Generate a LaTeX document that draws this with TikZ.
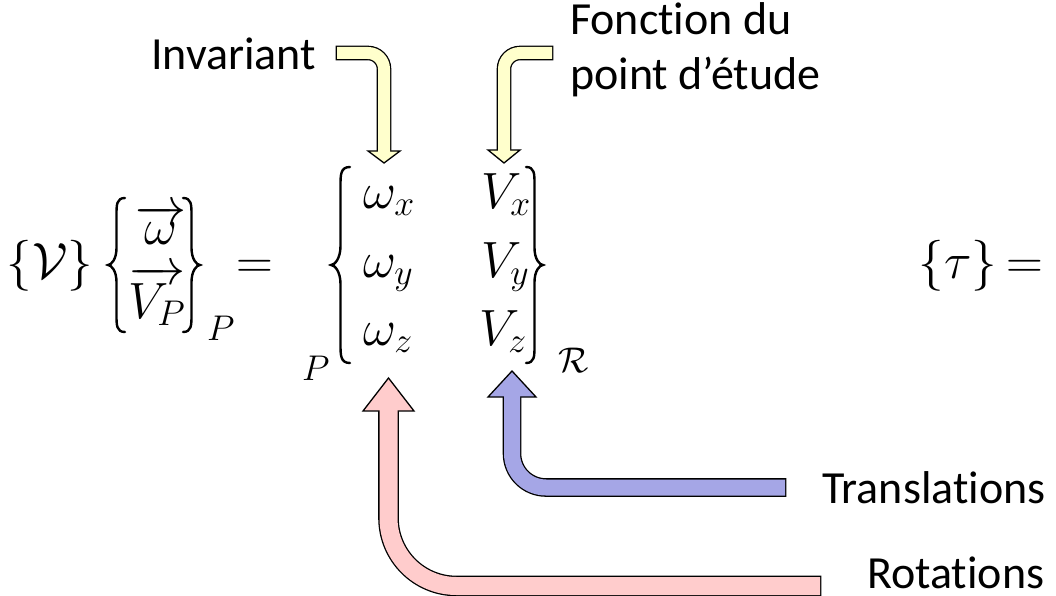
\RequirePackage{fix-cm}
\documentclass[tikz,border=0pt]{standalone}
\usepackage[no-math]{fontspec}
\setmainfont{Carlito}[Ligatures=NoCommon]
\usetikzlibrary{calc}
\definecolor{yel}{RGB}{255,255,204}
\definecolor{blu}{RGB}{165,166,230}
\definecolor{pnk}{RGB}{255,204,204}
\tikzset{
  lbl/.style={inner sep=0pt, anchor=base west, font=\fontsize{46}{55}\selectfont},
  mth/.style={inner sep=0pt, font=\fontsize{51}{61}\selectfont},
  mthw/.style={mth, anchor=base west},
  outl/.style={draw=black},
  headst/.style={draw=black, line width=1.3pt, line join=miter},
  bracest/.style={draw=black, line width=2.4pt, line cap=round},
}
% #1 tip coordinate name, #2 half height, #3 amplitude, #4 xscale (1 = left brace, -1 = right brace)
\newcommand\myBrace[4]{%
  \begin{scope}[shift={(#1)}, xscale=#4]
    \draw[bracest] (#3,-#2) .. controls (#3/2,-#2) and (#3/2,-#2+0.4*#3) .. (#3/2,-#2+#3)
      -- (#3/2,-#3) .. controls (#3/2,-0.35*#3) and (0.2*#3,0) .. (0,0)
      .. controls (0.2*#3,0) and (#3/2,0.35*#3) .. (#3/2,#3)
      -- (#3/2,#2-#3) .. controls (#3/2,#2-0.4*#3) and (#3/2,#2) .. (#3,#2);
  \end{scope}}
\begin{document}
\begin{tikzpicture}[x=1pt,y=-1pt]
\useasboundingbox (0,0) rectangle (1056,596);

% text labels
\node[lbl] (inv) at (151,70) {Invariant};
\node[lbl] (fon1) at (570,35) {Fonction du};
\node[lbl] (fon2) at (570,90) {point d’étude};
\node[lbl] (tra) at (822,503) {Translations};
\node[lbl] (rot) at (867,588) {Rotations};

% left formula
\node[mth, anchor=base] (cv) at (50,278) {$\{\mathcal{V}\}$};
\node[mthw] (om) at (135,244) {$\overrightarrow{\omega}$};
\node[mthw] (vp) at (128,318) {$\overrightarrow{V_P}$};
\node[mthw] (p1) at (207,340) {$\scriptstyle P$};
\node[mth, anchor=base] (eq1) at (255,278) {$=$};
\coordinate (lb1) at (108,265);
\coordinate (rb1) at (200,265);
\myBrace{lb1}{67}{17}{1}
\myBrace{rb1}{67}{17}{-1}

% matrix
\node[mthw] (ox) at (363,208) {$\omega_x$};
\node[mthw] (oy) at (363,277) {$\omega_y$};
\node[mthw] (oz) at (363,345) {$\omega_z$};
\node[mthw] (vx) at (481,208) {$V_x$};
\node[mthw] (vy) at (481,277) {$V_y$};
\node[mthw] (vz) at (479,345) {$V_z$};
\node[mthw] (pr) at (558,372) {$\scriptstyle\mathcal{R}$};
\node[mthw] (p2) at (302,380) {$\scriptstyle P$};
\coordinate (lb2) at (331,265);
\coordinate (rb2) at (543,265);
\myBrace{lb2}{98}{19}{1}
\myBrace{rb2}{98}{17}{-1}

% right formula
\node[mth, anchor=base] (tau) at (958,278) {$\{\tau\}$};
\node[mth, anchor=base] (eq2) at (1025,278) {$=$};

% yellow arrow 1 (Invariant)
\coordinate (y1tail) at (337,53);
\coordinate (y1knee) at (384,53);
\coordinate (y1base) at (384,151);
\coordinate (y1tip) at (384,163);
\draw[outl, line width=14.6pt, rounded corners=16pt] ($(y1tail)+(-1.3,0)$) -- (y1knee) -- (y1base);
\filldraw[headst, fill=yel] ($(y1base)+(-16,0)$) -- ($(y1base)+(16,0)$) -- (y1tip) -- cycle;
\draw[yel, line width=12pt, rounded corners=16pt] (y1tail) -- (y1knee) -- ($(y1base)+(0,1.5)$);

% yellow arrow 2 (Fonction du point d'etude)
\coordinate (y2tail) at (552,53);
\coordinate (y2knee) at (504,53);
\coordinate (y2base) at (504,150);
\coordinate (y2tip) at (504,163);
\draw[outl, line width=14.6pt, rounded corners=16pt] ($(y2tail)+(1.3,0)$) -- (y2knee) -- (y2base);
\filldraw[headst, fill=yel] ($(y2base)+(-16,0)$) -- ($(y2base)+(16,0)$) -- (y2tip) -- cycle;
\draw[yel, line width=12pt, rounded corners=16pt] (y2tail) -- (y2knee) -- ($(y2base)+(0,1.5)$);

% blue arrow (Translations)
\coordinate (btail) at (785,487.5);
\coordinate (bknee) at (512,487.5);
\coordinate (bbase) at (512,397);
\coordinate (btip) at (512,371);
\draw[outl, line width=18.6pt, rounded corners=34pt] ($(btail)+(1.3,0)$) -- (bknee) -- (bbase);
\filldraw[headst, fill=blu] ($(bbase)+(-24,0)$) -- ($(bbase)+(24,0)$) -- (btip) -- cycle;
\draw[blu, line width=16pt, rounded corners=34pt] (btail) -- (bknee) -- ($(bbase)+(0,-1.5)$);

% pink arrow (Rotations)
\coordinate (ptail) at (820,586);
\coordinate (pknee) at (388.5,586);
\coordinate (pbase) at (388.5,411);
\coordinate (ptip) at (388.5,378);
\draw[outl, line width=20.6pt, rounded corners=68pt] ($(ptail)+(1.3,0)$) -- (pknee) -- (pbase);
\filldraw[headst, fill=pnk] ($(pbase)+(-25.5,0)$) -- ($(pbase)+(25.5,0)$) -- (ptip) -- cycle;
\draw[pnk, line width=18pt, rounded corners=68pt] (ptail) -- (pknee) -- ($(pbase)+(0,-1.5)$);
\end{tikzpicture}
\end{document}
